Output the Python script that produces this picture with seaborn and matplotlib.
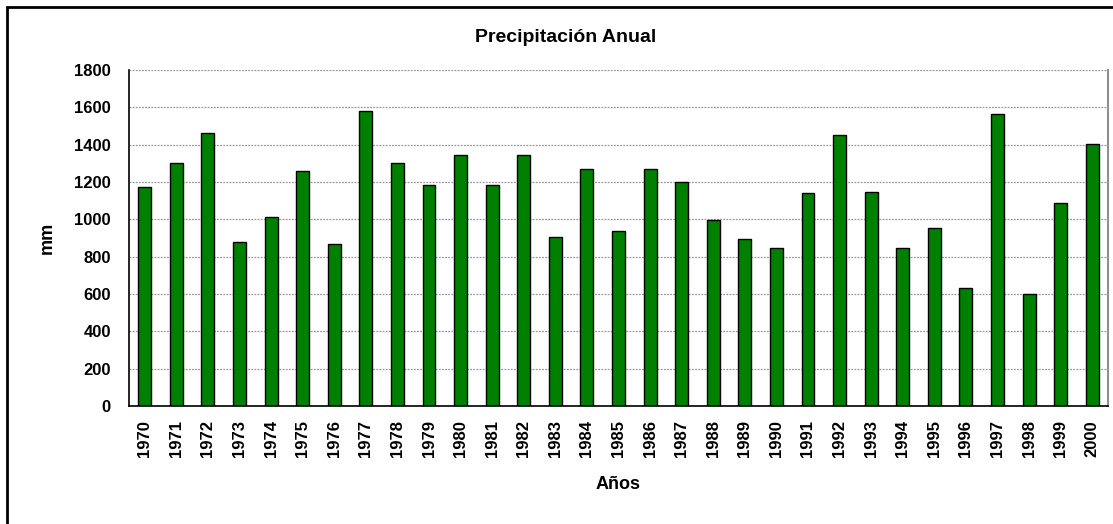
import numpy as np
import pandas as pd
import matplotlib
matplotlib.use("Agg")
import matplotlib.pyplot as plt
import seaborn as sns
from matplotlib.patches import Rectangle

# Data
years = [str(y) for y in range(1970, 2001)]
precip = [1175, 1300, 1460, 878, 1014, 1258, 870, 1580, 1300, 1183,
          1344, 1183, 1344, 904, 1267, 939, 1267, 1199, 997, 895,
          845, 1140, 1453, 1149, 845, 954, 633, 1562, 599, 1090, 1403]
yticks = list(range(0, 1801, 200))

df = pd.DataFrame({"year": years, "mm": precip})

sns.set_style("white")
plt.rcParams['font.family'] = ['Liberation Sans', 'DejaVu Sans']
plt.rcParams['text.color'] = 'black'
plt.rcParams['axes.labelcolor'] = 'black'
plt.rcParams['xtick.color'] = 'black'
plt.rcParams['ytick.color'] = 'black'

W, H = 1113, 524
fig = plt.figure(figsize=(W / 100, H / 100), dpi=100)
ax = fig.add_axes([129 / W, 1 - 406 / H, (1108 - 129) / W, (406 - 70) / H])

sns.barplot(data=df, x="year", y="mm", color="#008000", edgecolor="black",
            linewidth=1.0, width=0.41, saturation=1, ax=ax)

ax.set_ylim(0, 1800)
ax.set_xlim(-0.5, len(years) - 0.5)
ax.set_yticks(yticks)
ax.set_yticklabels([str(t) for t in yticks], fontsize=12, fontweight='bold')
ax.set_xticks(range(len(years)))
ax.set_xticklabels(years, rotation=90, fontsize=12, fontweight='bold')
ax.set_xticks(np.arange(-0.5, len(years), 1.0), minor=True)
ax.tick_params(axis='x', which='major', length=0, pad=10)
ax.tick_params(axis='x', which='minor', length=6, width=1, color='black', direction='out')
ax.tick_params(axis='y', length=7, width=1, color='black', direction='out', pad=6)

ax.yaxis.grid(True, color='#999999', linestyle=(0, (1.5, 1)), linewidth=0.9)
ax.set_axisbelow(True)

for side in ['left', 'bottom']:
    ax.spines[side].set_color('black')
    ax.spines[side].set_linewidth(1.2)
ax.spines['right'].set_color('#909090')
ax.spines['right'].set_linewidth(1.5)
ax.spines['top'].set_visible(False)

ax.set_xlabel("Años", fontsize=13, fontweight='bold')
ax.xaxis.set_label_coords(0.5, (406 - 476) / 336)
ax.set_ylabel("mm", fontsize=13, fontweight='bold')
ax.yaxis.set_label_coords((56 - 129) / 979, 0.5)
fig.text(566 / W, 1 - 42.5 / H, "Precipitación Anual", ha='center', va='baseline',
         fontsize=14, fontweight='bold')

# chart frame (cropped on right and bottom)
fig.patches.append(Rectangle((7 / W, -0.05), 1.2, 1 - 7 / H + 0.05,
                             transform=fig.transFigure, fill=False,
                             edgecolor='black', linewidth=2))

fig.savefig("out.png", dpi=100)
